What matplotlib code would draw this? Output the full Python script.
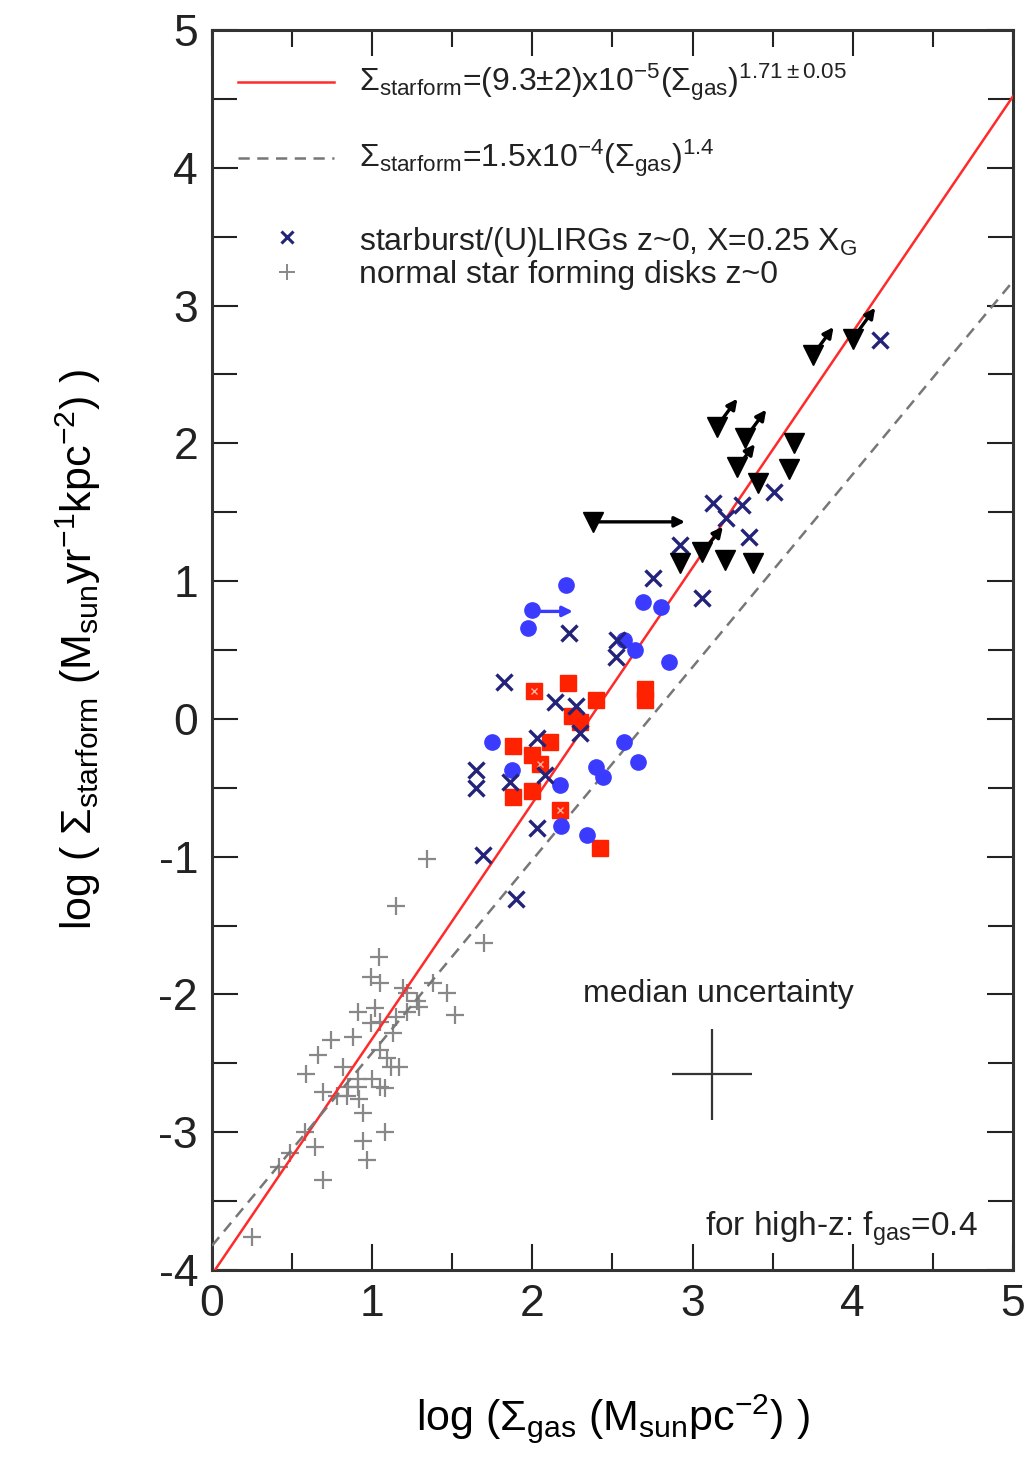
import matplotlib
matplotlib.use("Agg")
import matplotlib.pyplot as plt
import numpy as np
from matplotlib.ticker import MultipleLocator

plt.rcParams['font.family'] = ['Liberation Sans', 'DejaVu Sans']
plt.rcParams['mathtext.fontset'] = 'custom'
plt.rcParams['mathtext.rm'] = 'Liberation Sans'
plt.rcParams['mathtext.it'] = 'Liberation Sans:italic'
plt.rcParams['mathtext.sf'] = 'Liberation Sans'
plt.rcParams['axes.unicode_minus'] = False

# ---- data (log Sigma_gas, log Sigma_SFR) ----
normal_x = [1.34, 1.15, 1.70, 1.04, 0.99, 1.05, 1.19, 1.47, 1.38, 1.52, 1.29, 1.22,
            0.91, 1.02, 0.99, 1.05, 1.13, 0.88, 0.74, 0.66, 1.05, 1.09, 1.12, 1.17,
            0.82, 0.59, 0.91, 0.85, 1.00, 0.91, 0.69, 1.08, 1.05, 0.84, 0.92, 0.78,
            0.94, 0.58, 0.64, 0.94, 1.08, 0.97, 0.69, 0.25, 0.49, 0.42, 1.28, 1.22, 1.15]
normal_y = [-1.02, -1.36, -1.63, -1.73, -1.87, -1.92, -1.95, -1.99, -1.92, -2.15, -2.09, -2.13,
            -2.13, -2.10, -2.21, -2.20, -2.28, -2.31, -2.33, -2.44, -2.40, -2.46, -2.53, -2.53,
            -2.53, -2.58, -2.61, -2.67, -2.61, -2.67, -2.71, -2.68, -2.67, -2.74, -2.76, -2.74,
            -2.86, -3.00, -3.11, -3.06, -3.00, -3.20, -3.35, -3.76, -3.15, -3.25, -2.05, -1.99, -2.16]

sb_x = [4.17, 3.13, 3.31, 3.21, 3.35, 3.51, 2.92, 3.06, 2.75, 2.53, 2.52, 2.23, 1.82,
        2.14, 2.27, 2.03, 2.30, 1.65, 1.65, 1.86, 2.08, 2.03, 1.69, 1.90]
sb_y = [2.75, 1.57, 1.55, 1.46, 1.32, 1.65, 1.26, 0.88, 1.02, 0.57, 0.45, 0.62, 0.27,
        0.12, 0.09, -0.14, -0.10, -0.37, -0.50, -0.46, -0.41, -0.79, -0.99, -1.31]

blue_x = [2.21, 2.00, 1.97, 2.69, 2.80, 2.57, 2.64, 2.85, 1.75, 1.87, 2.17, 2.40, 2.44,
          2.18, 2.34, 2.57, 2.66]
blue_y = [0.97, 0.79, 0.66, 0.85, 0.81, 0.57, 0.50, 0.41, -0.17, -0.37, -0.48, -0.35, -0.42,
          -0.78, -0.84, -0.17, -0.31]

red_x = [2.01, 2.22, 2.40, 2.70, 2.70, 1.88, 2.00, 2.11, 2.05, 2.00, 1.88, 2.17, 2.42, 2.25, 2.30]
red_y = [0.20, 0.26, 0.14, 0.22, 0.14, -0.20, -0.26, -0.17, -0.33, -0.52, -0.57, -0.66, -0.94, 0.02, -0.02]
red_open = [0, 11, 8]   # squares drawn with inner marks

lim_x = [2.38, 2.92, 3.06, 3.20, 3.38, 3.41, 3.15, 3.33, 3.28, 3.63, 3.60, 3.75, 4.00]
lim_y = [1.43, 1.13, 1.21, 1.15, 1.13, 1.71, 2.12, 2.04, 1.83, 2.00, 1.81, 2.64, 2.76]
lim_arrow_dx = [0.59, 0, 0.14, 0, 0, 0, 0.14, 0.14, 0.12, 0, 0, 0.14, 0.15]
lim_arrow_dy = [0.0, 0, 0.20, 0, 0, 0, 0.22, 0.22, 0.18, 0, 0, 0.22, 0.24]

blue_arrow = (2.00, 0.78, 0.27, 0.0)

fit_a, fit_n = 9.3e-5, 1.71
ks_a, ks_n = 1.5e-4, 1.4

med_x, med_y, med_ex, med_ey = 3.12, -2.58, 0.25, 0.33

fig = plt.figure(figsize=(10.25, 14.61), dpi=100)
ax = fig.add_axes([0.2068, 0.1307, 0.7815, 0.8488])

xx = np.linspace(0, 5, 200)
ax.plot(xx, np.log10(fit_a) + fit_n * xx, color='#ff2a2a', lw=1.8, zorder=3)
ax.plot(xx, np.log10(ks_a) + ks_n * xx, color='#777777', lw=1.8,
        ls=(0, (4.5, 3)), zorder=3)

ax.plot(normal_x, normal_y, ls='none', marker='+', ms=13, mew=1.6, color='#888888', zorder=2)
ax.plot(red_x, red_y, ls='none', marker='s', ms=11, color='#ff2200', mec='#ff2200', zorder=4)
ax.plot([red_x[i] for i in red_open], [red_y[i] for i in red_open], ls='none', marker='x',
        ms=5, mew=1.0, color='#ffb0a0', zorder=4.5)
ax.plot(blue_x, blue_y, ls='none', marker='o', ms=11, color='#3b3bff', mec='#3b3bff', zorder=5)
ax.plot(sb_x, sb_y, ls='none', marker='x', ms=11, mew=2.4, color='#23237a', zorder=6)
ax.plot(lim_x, lim_y, ls='none', marker='v', ms=14, color='black', zorder=6)

for x0, y0, dx, dy in zip(lim_x, lim_y, lim_arrow_dx, lim_arrow_dy):
    if dx or dy:
        ax.annotate('', xy=(x0 + dx, y0 + dy), xytext=(x0, y0),
                    arrowprops=dict(arrowstyle='-|>,head_length=0.6,head_width=0.3',
                                    color='black', lw=2.4), zorder=6)
bx, by, bdx, bdy = blue_arrow
ax.annotate('', xy=(bx + bdx, by + bdy), xytext=(bx, by),
            arrowprops=dict(arrowstyle='-|>,head_length=0.6,head_width=0.3',
                            color='#3b3bff', lw=2.4), zorder=5)

ax.errorbar([med_x], [med_y], xerr=[med_ex], yerr=[med_ey], fmt='none',
            ecolor='#333333', elinewidth=1.6, capsize=0)
ax.text(med_x + 0.04, -2.0, 'median uncertainty', fontsize=23, ha='center', va='center',
        color='#222222')
ax.text(4.78, -3.75, r'for high-z: f$_{\rm gas}$=0.4', fontsize=24, ha='right',
        va='baseline', color='#222222')

# legend drawn as lines + text inside the axes
ax.plot([0.16, 0.76], [4.62, 4.62], color='#ff2a2a', lw=1.8)
ax.plot([0.16, 0.76], [4.07, 4.07], color='#777777', lw=1.8, ls=(0, (4.5, 3)))
ax.plot([0.47], [3.50], marker='x', ms=9, mew=2.2, color='#23237a')
ax.plot([0.47], [3.24], marker='+', ms=11, mew=1.4, color='#888888')
ax.text(0.92, 4.62, r'$\Sigma_{\rm starform}$=(9.3$\pm$2)x10$^{-5}$($\Sigma_{\rm gas}$)$^{1.71\pm0.05}$',
        fontsize=23, va='center', ha='left', color='#222222')
ax.text(0.92, 4.07, r'$\Sigma_{\rm starform}$=1.5x10$^{-4}$($\Sigma_{\rm gas}$)$^{1.4}$',
        fontsize=23, va='center', ha='left', color='#222222')
ax.text(0.92, 3.46, r'starburst/(U)LIRGs z~0, X=0.25 X$_{\rm G}$', fontsize=23,
        va='center', ha='left', color='#222222')
ax.text(0.92, 3.22, 'normal star forming disks z~0', fontsize=23,
        va='center', ha='left', color='#222222')

ax.set_xlim(0, 5)
ax.set_ylim(-4, 5)
ax.xaxis.set_major_locator(MultipleLocator(1))
ax.xaxis.set_minor_locator(MultipleLocator(0.5))
ax.yaxis.set_major_locator(MultipleLocator(1))
ax.yaxis.set_minor_locator(MultipleLocator(0.5))
ax.tick_params(which='both', direction='in', top=True, right=True, colors='#222222')
ax.tick_params(which='major', length=19, width=1.5, labelsize=32, pad=10)
ax.tick_params(axis='x', which='minor', length=12, width=1.5)
ax.tick_params(axis='y', which='minor', length=18, width=1.5)
for s in ax.spines.values():
    s.set_linewidth(2.2)
    s.set_color('#333333')

ax.set_xlabel(r'log ($\Sigma_{\rm gas}$ (M$_{\rm sun}$pc$^{-2}$) )', fontsize=31, labelpad=48)
ax.set_ylabel(r'log ( $\Sigma_{\rm starform}$ (M$_{\rm sun}$yr$^{-1}$kpc$^{-2}$) )', fontsize=31,
              labelpad=40)

fig.savefig('out.png', dpi=100)
